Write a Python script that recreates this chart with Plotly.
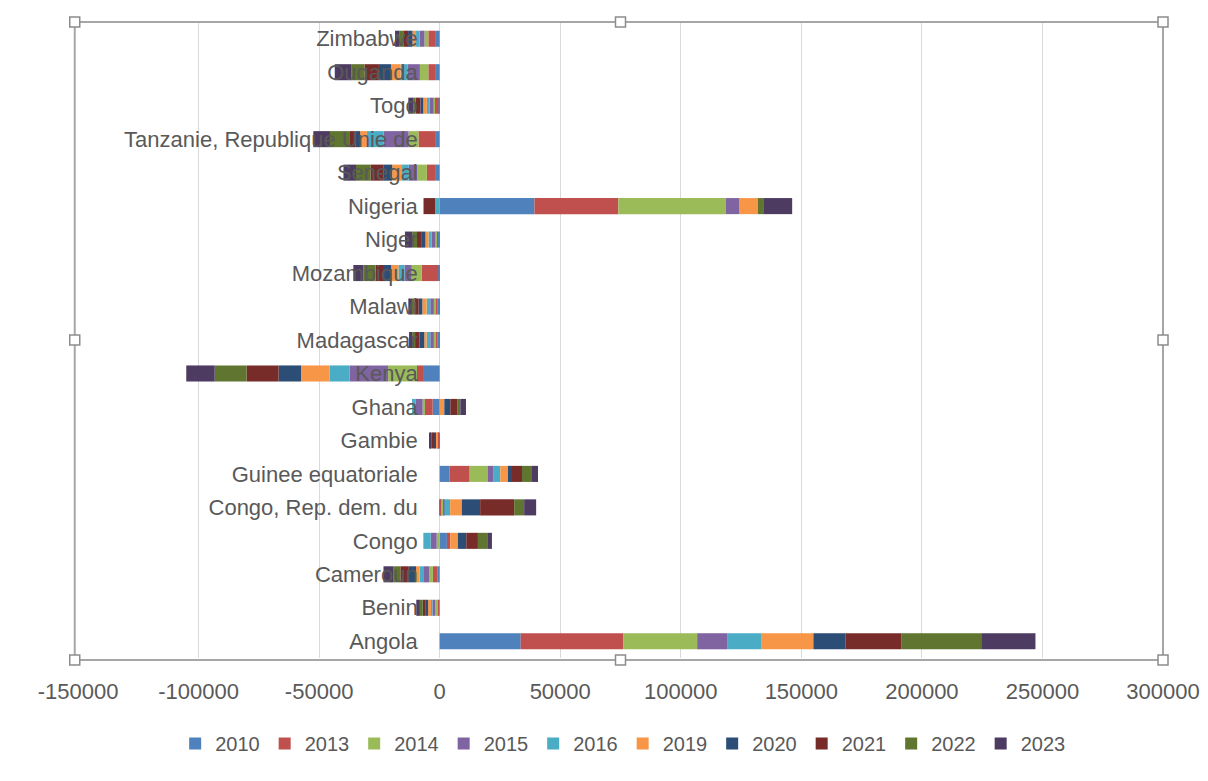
import plotly.graph_objects as go

# Pays (du bas vers le haut)
pays = ["Angola", "Benin", "Cameroun", "Congo", "Congo, Rep. dem. du",
        "Guinee equatoriale", "Gambie", "Ghana", "Kenya", "Madagascar",
        "Malawi", "Mozambique", "Niger", "Nigeria", "Senegal",
        "Tanzanie, Republique Unie de", "Togo", "Ouganda", "Zimbabwe"]

annees = ["2010", "2013", "2014", "2015", "2016", "2019", "2020", "2021", "2022", "2023"]

# Valeurs estimées par année, dans l'ordre de `pays`
v2010 = [33600, 0, -1000, 3000, 400, 4150, -300, -2900, -6900, -800,
         -800, -600, -800, 39300, -1900, -1900, -500, -1900, -1900]
v2013 = [42500, -1000, -1800, 1400, 500, 8300, -800, -3450, -2500, -1000,
         -1000, -6900, -600, 34800, -3400, -6900, -1500, -2800, -2800]
v2014 = [30700, -800, -1500, -1240, 800, 7600, 0, -700, -12000, -600,
         -600, -4100, -500, 44500, -4100, -4100, -600, -3500, -1600]
v2015 = [12400, -1200, -2200, -2490, 300, 2350, 0, -3000, -16000, -1500,
         -1500, -3000, -1500, 5800, -3400, -10400, -1500, -5000, -2000]
v2016 = [14100, -1000, -1800, -3040, 2350, 2760, 0, -1400, -8300, -1500,
         -1500, -2500, -1200, -1900, -2800, -6900, -1200, -3000, -1500]
v2019 = [21700, -800, -1500, 3180, 4840, 3180, -600, 1930, -11800, -1000,
         -1800, -3000, -1300, 7600, -4100, -2800, -1500, -4000, -1500]
v2020 = [13400, -1200, -3000, 3450, 7600, 1660, -500, 2490, -9300, -2000,
         -1500, -3000, -1500, 0, -3500, -2000, -1200, -5000, -1800]
v2021 = [23000, -1000, -3500, 4840, 14100, 4150, -1000, 3040, -13300, -1800,
         -1800, -3500, -2000, -4800, -5500, -2200, -2000, -6000, -2000]
v2022 = [33200, -1200, -3000, 4150, 4150, 4150, -400, 1100, -13200, -1200,
         -1000, -5000, -2000, 2500, -6000, -8300, -1000, -5500, -1500]
v2023 = [22500, -1500, -4000, 1660, 4975, 2490, -500, 2350, -11800, -1300,
         -1500, -4200, -3000, 11700, -5200, -6900, -2000, -6800, -1900]

valeurs = [v2010, v2013, v2014, v2015, v2016, v2019, v2020, v2021, v2022, v2023]
couleurs = ["#4F81BD", "#C0504D", "#9BBB59", "#8064A2", "#4BACC6",
            "#F79646", "#2C4D75", "#772C2A", "#5F7530", "#4D3B62"]

graduations = [-150000, -100000, -50000, 0, 50000, 100000, 150000, 200000, 250000, 300000]

police = "Liberation Sans, Arial, sans-serif"
gris = "#595959"

figure = go.Figure()

for annee, vals, couleur in zip(annees, valeurs, couleurs):
    figure.add_trace(
        go.Bar(
            y=pays,
            x=vals,
            name=annee,
            orientation="h",
            marker=dict(color=couleur, line=dict(width=0)),
        )
    )

# la page html ajoute une marge de 8 px autour de la figure
figure.update_layout(
    width=1192,
    height=765,
    barmode="relative",
    bargap=0.52,
    paper_bgcolor="white",
    plot_bgcolor="white",
    margin=dict(l=70, r=37, t=14, b=115, autoexpand=False),
    font=dict(family=police, size=20, color=gris),
    showlegend=True,
    legend=dict(
        orientation="h",
        x=0.502,
        xanchor="center",
        yref="container",
        y=0.064,
        yanchor="top",
        traceorder="normal",
        font=dict(size=20, color=gris),
    ),
    xaxis=dict(
        range=[-150000, 300000],
        tickvals=graduations,
        ticktext=[str(v) for v in graduations],
        showgrid=True,
        gridcolor="#D9D9D9",
        gridwidth=1,
        zeroline=True,
        zerolinecolor="#D9D9D9",
        zerolinewidth=1,
        showline=False,
        ticks="",
        ticklabelstandoff=18,
        automargin=False,
        tickfont=dict(size=22, color=gris),
    ),
    yaxis=dict(
        type="category",
        categoryorder="array",
        categoryarray=pays,
        anchor="free",
        position=1 / 3,
        showgrid=False,
        zeroline=False,
        showline=False,
        ticks="",
        ticklabelstandoff=22,
        automargin=False,
        tickfont=dict(size=22, color=gris),
    ),
)

# Cadre de sélection de la zone de traçage
figure.add_shape(
    type="rect", xref="paper", yref="paper",
    x0=-0.003, x1=1.0, y0=-0.003, y1=1.0,
    line=dict(color="#A6A6A6", width=2),
)

poignees = [(-0.003, 1.0), (0.5, 1.0), (1.0, 1.0),
            (-0.003, 0.5), (1.0, 0.5),
            (-0.003, -0.003), (0.5, -0.003), (1.0, -0.003)]
for px, py in poignees:
    figure.add_shape(
        type="rect", xref="paper", yref="paper",
        xsizemode="pixel", ysizemode="pixel",
        xanchor=px, yanchor=py,
        x0=-5, x1=5, y0=-5, y1=5,
        line=dict(color="#8C8C8C", width=1.5),
        fillcolor="white",
    )

figure.write_html("out.html")
